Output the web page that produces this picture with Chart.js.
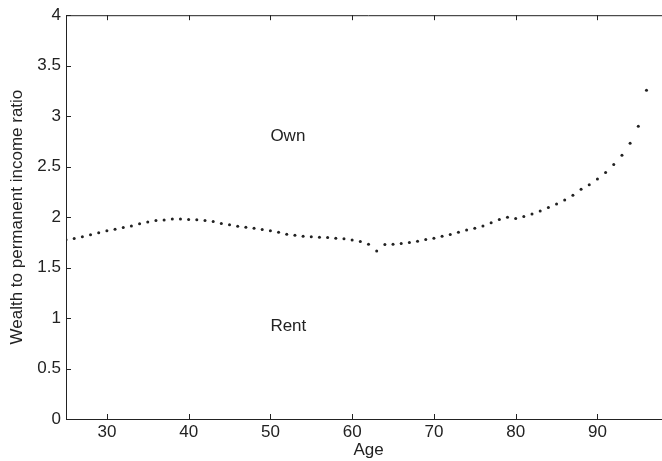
<!DOCTYPE html>
<html>
<head>
<meta charset="utf-8">
<script src="https://cdn.jsdelivr.net/npm/chart.js@4/dist/chart.umd.min.js"></script>
<style>
  html, body { margin: 0; padding: 0; background: #fff; overflow: hidden; }
  #wrap { position: relative; width: 690px; height: 461px; }
</style>
</head>
<body>
<div id="wrap"><canvas id="plot"></canvas></div>
<script>
// Data
const ages = [25, 26, 27, 28, 29, 30, 31, 32, 33, 34, 35, 36, 37, 38, 39, 40, 41, 42,
    43, 44, 45, 46, 47, 48, 49, 50, 51, 52, 53, 54, 55, 56, 57, 58, 59, 60,
    61, 62, 63, 64, 65, 66, 67, 68, 69, 70, 71, 72, 73, 74, 75, 76, 77, 78,
    79, 80, 81, 82, 83, 84, 85, 86, 87, 88, 89, 90, 91, 92, 93, 94, 95, 96];
const wealthRatio = [1.775, 1.788, 1.805, 1.824, 1.844, 1.864, 1.879, 1.897, 1.913, 1.933, 1.952, 1.966,
    1.972, 1.982, 1.982, 1.976, 1.973, 1.966, 1.956, 1.936, 1.923, 1.910, 1.900, 1.890,
    1.877, 1.864, 1.850, 1.831, 1.821, 1.811, 1.805, 1.800, 1.798, 1.791, 1.785, 1.772,
    1.758, 1.732, 1.663, 1.729, 1.732, 1.739, 1.749, 1.762, 1.778, 1.791, 1.811, 1.828,
    1.850, 1.871, 1.890, 1.913, 1.943, 1.976, 1.999, 1.985, 2.005, 2.031, 2.061, 2.094,
    2.130, 2.170, 2.216, 2.275, 2.320, 2.377, 2.443, 2.520, 2.613, 2.732, 2.900, 3.257];

const xTicks = [30, 40, 50, 60, 70, 80, 90];
const yTicks = [0, 0.5, 1, 1.5, 2, 2.5, 3, 3.5, 4];

// text annotations (data coords)
const noteTexts = ['Own', 'Rent'];
const noteX = [50, 50];
const noteY = [2.8, 0.92];

const FONT = '"Liberation Sans", Arial, Helvetica, sans-serif';
const INK = '#222';
const TICK_LEN = 5;
const FS = 17;

const matlabAxes = {
    id: 'matlabAxes',
    afterDraw: chart => {
        const {ctx, chartArea: a, scales: {x, y}} = chart;
        ctx.save();
        ctx.strokeStyle = INK;
        ctx.lineWidth = 1;
        ctx.beginPath();
        // top border
        ctx.moveTo(a.left, a.top + 0.5);
        ctx.lineTo(a.right, a.top + 0.5);
        xTicks.forEach(v => {
            const px = Math.round(x.getPixelForValue(v)) + 0.5;
            ctx.moveTo(px, a.bottom);
            ctx.lineTo(px, a.bottom - TICK_LEN);
            ctx.moveTo(px, a.top);
            ctx.lineTo(px, a.top + TICK_LEN);
        });
        yTicks.forEach(v => {
            const py = Math.round(y.getPixelForValue(v)) + 0.5;
            ctx.moveTo(a.left, py);
            ctx.lineTo(a.left + TICK_LEN, py);
            ctx.moveTo(a.right, py);
            ctx.lineTo(a.right - TICK_LEN, py);
        });
        ctx.stroke();

        // Own / Rent labels
        ctx.fillStyle = INK;
        ctx.font = FS + 'px ' + FONT;
        ctx.textAlign = 'left';
        ctx.textBaseline = 'middle';
        noteTexts.forEach((t, i) => {
            ctx.fillText(t, x.getPixelForValue(noteX[i]), y.getPixelForValue(noteY[i]));
        });
        ctx.restore();
    }
};

new Chart(document.getElementById('plot'), {
    type: 'scatter',
    data: {
        datasets: [{
            data: ages.map((a, i) => ({x: a, y: wealthRatio[i]})),
            showLine: false,
            pointRadius: 1.5,
            pointHoverRadius: 1.5,
            pointBackgroundColor: INK,
            pointBorderWidth: 0,
        }]
    },
    options: {
        responsive: true,
        maintainAspectRatio: false,
        animation: false,
        layout: {padding: {left: 0, right: 19, top: 13, bottom: 0}},
        plugins: {legend: {display: false}, tooltip: {enabled: false}},
        scales: {
            x: {
                type: 'linear',
                min: 25,
                max: 99,
                afterBuildTicks: s => { s.ticks = xTicks.map(v => ({value: v})); },
                afterFit: s => { s.height = 42; },
                ticks: {color: INK, font: {family: FONT, size: FS}, padding: 3, maxRotation: 0,
                    callback: v => String(v)},
                grid: {display: true, drawOnChartArea: false, drawTicks: false},
                border: {display: true, color: INK, width: 1},
                title: {display: true, text: 'Age', color: INK, font: {family: FONT, size: FS},
                    padding: {top: 0, bottom: 0}}
            },
            y: {
                type: 'linear',
                min: 0,
                max: 4,
                afterBuildTicks: s => { s.ticks = yTicks.map(v => ({value: v})); },
                afterFit: s => { s.width = 66; },
                ticks: {color: INK, font: {family: FONT, size: FS}, padding: 5,
                    callback: v => String(v)},
                grid: {display: true, drawOnChartArea: false, drawTicks: false},
                border: {display: true, color: INK, width: 1},
                title: {display: true, text: 'Wealth to permanent income ratio', color: INK,
                    font: {family: FONT, size: FS}, padding: {top: 7, bottom: 0}}
            }
        }
    },
    plugins: [matlabAxes]
});
</script>
</body>
</html>
